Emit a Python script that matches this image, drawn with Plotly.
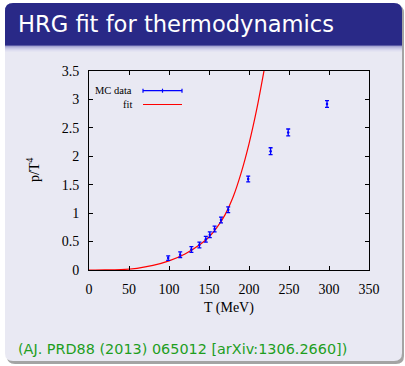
import plotly.graph_objects as go

# ---- data ----
mc_T = [99, 114, 128, 138, 146, 151, 157, 165, 174, 199, 227, 249, 297.5]
mc_p = [0.21, 0.27, 0.36, 0.44, 0.54, 0.62, 0.72, 0.88, 1.06, 1.60, 2.09, 2.42, 2.92]
mc_err = [0.04, 0.05, 0.05, 0.05, 0.05, 0.05, 0.05, 0.05, 0.05, 0.05, 0.06, 0.06, 0.06]

fit_T = [0, 20, 40, 60, 80, 100, 120, 140, 150, 160, 170, 180, 190, 200, 210, 220]
fit_p = [0, 0.0005, 0.007, 0.03, 0.08, 0.16, 0.28, 0.46, 0.58, 0.75, 0.97, 1.28, 1.70, 2.22, 2.85, 3.6]

x_ticks = [0, 50, 100, 150, 200, 250, 300, 350]
y_ticks = [0, 0.5, 1, 1.5, 2, 2.5, 3, 3.5]
y_tick_text = ["0", "0.5", "1", "1.5", "2", "2.5", "3", "3.5"]

title_text = "HRG fit for thermodynamics"
ref_text = "(AJ. PRD88 (2013) 065012 [arXiv:1306.2660])"

# ---- layout geometry (pixels) ----
W, H = 405, 366
L, R, T, B = 89, 369, 71, 270


def px(x):
    return (x - L) / (R - L)


def py(y):
    return (B - y) / (B - T)


def rrect(x0, y0, x1, y1, rt, rb):
    # rounded rectangle path in paper coords; rt top radius, rb bottom radius
    p = []
    p.append(f"M {px(x0 + rt)} {py(y0)}")
    p.append(f"L {px(x1 - rt)} {py(y0)}")
    p.append(f"Q {px(x1)} {py(y0)} {px(x1)} {py(y0 + rt)}")
    p.append(f"L {px(x1)} {py(y1 - rb)}")
    p.append(f"Q {px(x1)} {py(y1)} {px(x1 - rb)} {py(y1)}")
    p.append(f"L {px(x0 + rb)} {py(y1)}")
    p.append(f"Q {px(x0)} {py(y1)} {px(x0)} {py(y1 - rb)}")
    p.append(f"L {px(x0)} {py(y0 + rt)}")
    p.append(f"Q {px(x0)} {py(y0)} {px(x0 + rt)} {py(y0)}")
    p.append("Z")
    return " ".join(p)


BODY = "rgb(233,233,243)"
BAR = "rgb(41,41,135)"

shapes = []
# shadow
shapes.append(dict(type="path", xref="paper", yref="paper", layer="below",
                   path=rrect(7, 5, 404, 364, 8, 8),
                   fillcolor="rgba(90,90,90,0.55)", line=dict(width=0)))
# body
shapes.append(dict(type="path", xref="paper", yref="paper", layer="below",
                   path=rrect(5, 3, 402, 361, 8, 8),
                   fillcolor=BODY, line=dict(width=0)))
# gradient below title bar
grad = [(45, "rgb(140,140,195)"), (46, "rgb(165,165,210)"), (47, "rgb(185,185,222)"),
        (48, "rgb(200,200,230)"), (49, "rgb(212,212,236)"), (50, "rgb(222,222,240)"),
        (51, "rgb(228,228,242)")]
for yy, c in grad:
    shapes.append(dict(type="rect", xref="paper", yref="paper", layer="below",
                       x0=px(5), x1=px(402), y0=py(yy), y1=py(yy + 1),
                       fillcolor=c, line=dict(width=0)))
# title bar
shapes.append(dict(type="path", xref="paper", yref="paper", layer="below",
                   path=rrect(5, 3, 402, 45.5, 8, 0.01),
                   fillcolor=BAR, line=dict(width=0)))

# manual gnuplot-style legend samples
leg_x0, leg_x1, leg_xm = 143, 182, 162.5
y1, y2 = 90.7, 104.5
blue = "rgb(0,0,255)"
red = "rgb(255,0,0)"
shapes.append(dict(type="line", xref="paper", yref="paper", x0=px(leg_x0), x1=px(leg_x1),
                   y0=py(y1), y1=py(y1), line=dict(color=blue, width=1.2)))
for xx in (leg_x0, leg_xm, leg_x1):
    shapes.append(dict(type="line", xref="paper", yref="paper", x0=px(xx), x1=px(xx),
                       y0=py(y1 - 2), y1=py(y1 + 2), line=dict(color=blue, width=1.2)))
shapes.append(dict(type="line", xref="paper", yref="paper", x0=px(leg_x0), x1=px(leg_x1),
                   y0=py(y2), y1=py(y2), line=dict(color=red, width=1.2)))

annotations = [
    dict(text=title_text, x=px(16), y=py(24), xref="paper", yref="paper",
         xanchor="left", yanchor="middle", showarrow=False,
         font=dict(family="DejaVu Sans", size=22.6, color="white")),
    dict(text=ref_text, x=px(16), y=py(349), xref="paper", yref="paper",
         xanchor="left", yanchor="middle", showarrow=False,
         font=dict(family="DejaVu Sans", size=14.4, color="rgb(30,158,30)")),
    dict(text="T (MeV)", x=px(229), y=py(308), xref="paper", yref="paper",
         xanchor="center", yanchor="middle", showarrow=False,
         font=dict(family="Liberation Serif", size=14, color="black")),
    dict(text="p/T<sup>4</sup>", x=px(33), y=py(170), xref="paper", yref="paper",
         xanchor="center", yanchor="middle", showarrow=False, textangle=-90,
         font=dict(family="Liberation Serif", size=14, color="black")),
    dict(text="MC data", x=px(134), y=py(y1), xref="paper", yref="paper",
         xanchor="right", yanchor="middle", showarrow=False,
         font=dict(family="Liberation Serif", size=10.5, color="black")),
    dict(text="fit", x=px(134), y=py(y2), xref="paper", yref="paper",
         xanchor="right", yanchor="middle", showarrow=False,
         font=dict(family="Liberation Serif", size=10.5, color="black")),
]

fig = go.Figure()
fig.add_trace(go.Scatter(x=fit_T, y=fit_p, mode="lines", name="fit",
                         line=dict(color=red, width=1.2, shape="spline", smoothing=0.8)))
fig.add_trace(go.Scatter(x=mc_T, y=mc_p, mode="markers", name="MC data",
                         marker=dict(color=blue, size=2.5),
                         error_y=dict(type="data", array=mc_err, color=blue,
                                      thickness=1.3, width=2)))

axis_common = dict(showgrid=False, zeroline=False, showline=True, linecolor="black",
                   linewidth=1, mirror="allticks", ticks="inside", ticklen=4,
                   tickcolor="black", tickwidth=1,
                   tickfont=dict(family="Liberation Serif", size=14, color="black"))

fig.update_layout(
    width=W, height=H,
    margin=dict(l=L, r=W - R, t=T, b=H - B, pad=0),
    paper_bgcolor="white",
    plot_bgcolor="rgba(0,0,0,0)",
    showlegend=False,
    shapes=shapes,
    annotations=annotations,
    xaxis=dict(range=[0, 350], tickvals=x_ticks, ticklabelstandoff=6, **axis_common),
    yaxis=dict(range=[0, 3.5], tickvals=y_ticks, ticktext=y_tick_text,
               ticklabelstandoff=6, **axis_common),
)

fig.write_html("out.html")
